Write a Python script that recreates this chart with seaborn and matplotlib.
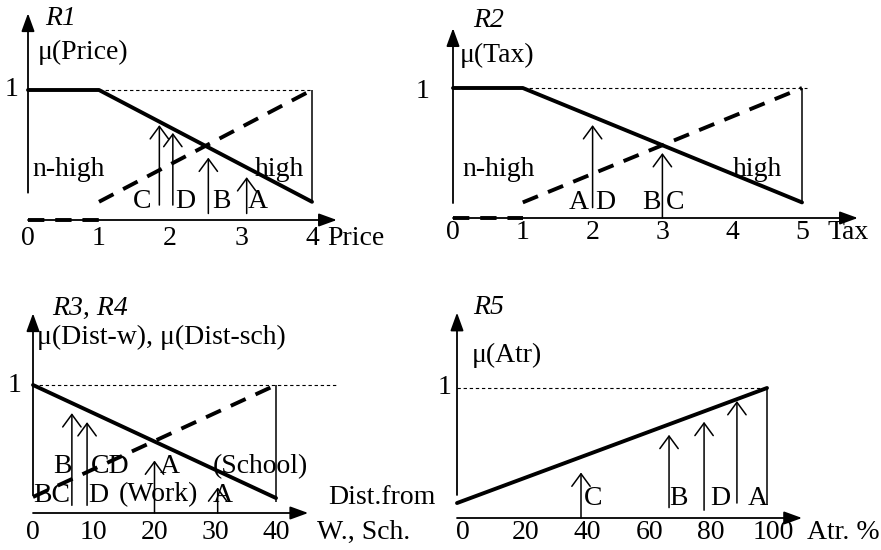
import matplotlib
matplotlib.use("Agg")
import matplotlib.pyplot as plt
import seaborn as sns

sns.set_style("white")
plt.rcParams["font.family"] = ["Liberation Serif", "DejaVu Serif"]

W, H = 881, 550
FS = 20
LW_THICK = 2.8
DASH_THICK = (0, (4.2, 2.8))
DASH_THIN = (0, (3.0, 2.5))

# ── R1: price ─────────────────────────────────────────────────────────
PRICE_X = [0, 1, 4]
PRICE_NHIGH = [1, 1, 0.14]
PRICE_HIGH_X = [1, 4]
PRICE_HIGH = [0.14, 1]
PRICE_TICKS = [0, 1, 2, 3, 4]
PRICE_ARROW_X = [1.85, 2.04, 2.54, 3.08]
PRICE_ARROW_LO = [0.115, 0.115, 0.05, 0.05]
PRICE_ARROW_HI = [0.73, 0.67, 0.48, 0.33]
PRICE_LETTERS = ["C", "D", "B", "A"]
PRICE_LETTER_X = [1.61, 2.21, 2.72, 3.23]

# ── R2: tax ───────────────────────────────────────────────────────────
TAX_X = [0, 1, 5]
TAX_NHIGH = [1, 1, 0.12]
TAX_HIGH_X = [1, 5]
TAX_HIGH = [0.12, 1]
TAX_TICKS = [0, 1, 2, 3, 4, 5]
TAX_ARROW_X = [2.0, 3.0]
TAX_ARROW_LO = [0.08, 0.0]
TAX_ARROW_HI = [0.715, 0.5]
TAX_LETTERS = ["A", "D", "B", "C"]
TAX_LETTER_X = [1.8, 2.18, 2.85, 3.18]

# ── R3, R4: distance from work / school ───────────────────────────────
DIST_X = [0, 40]
DIST_WORK = [1, 0.117]
DIST_SCHOOL = [0.125, 1]
DIST_TICKS = [0, 10, 20, 30, 40]
DIST_ARROW_X = [6.4, 8.9, 20, 30.4]
DIST_ARROW_LO = [0.06, 0.06, 0.0, 0.0]
DIST_ARROW_HI = [0.78, 0.71, 0.41, 0.2]
DIST_UPPER = ["B", "CD", "A", "(School)"]
DIST_UPPER_X = [4.9, 12.7, 22.5, 37.4]
DIST_LOWER = ["BC", "D", "(Work)", "A"]
DIST_LOWER_X = [3.1, 10.7, 20.6, 31.3]

# ── R5: attractiveness ────────────────────────────────────────────────
ATR_X = [0, 100]
ATR_MU = [0.115, 1]
ATR_TICKS = [0, 20, 40, 60, 80, 100]
ATR_ARROW_X = [40, 68.4, 79.7, 90.3]
ATR_ARROW_LO = [0.0, 0.08, 0.06, 0.115]
ATR_ARROW_HI = [0.35, 0.64, 0.74, 0.9]
ATR_LETTERS = ["C", "B", "D", "A"]
ATR_LETTER_X = [43.9, 71.3, 84.8, 97.1]


fig = plt.figure(figsize=(W / 100, H / 100), dpi=100)
fig.patch.set_facecolor("white")


def make_panel(left, top, width, height, x0_px, xunit, y0_px, yunit):
    ax = fig.add_axes([left / W, 1 - (top + height) / H, width / W, height / H])
    ax.set_xlim((left - x0_px) / xunit, (left + width - x0_px) / xunit)
    ax.set_ylim((y0_px - (top + height)) / yunit, (y0_px - top) / yunit)
    ax.axis("off")
    return ax


def axis_arrow(ax, start, end):
    ax.annotate("", xy=end, xytext=start,
                arrowprops=dict(arrowstyle="-|>,head_length=1.1,head_width=0.4",
                                color="black", lw=1.3, mutation_scale=10,
                                shrinkA=0, shrinkB=0))


def up_arrows(ax, xs, lo, hi):
    for x, a, b in zip(xs, lo, hi):
        ax.annotate("", xy=(x, b), xytext=(x, a),
                    arrowprops=dict(arrowstyle="->,head_length=0.45,head_width=0.33",
                                    color="black", lw=1.1, mutation_scale=20,
                                    shrinkA=0, shrinkB=0))


def curve(ax, x, y, dashed=False):
    sns.lineplot(x=x, y=y, ax=ax, color="black", lw=LW_THICK,
                 linestyle=DASH_THICK if dashed else "-",
                 estimator=None, sort=False, legend=False)


def txt(ax, x, y, s, ha="center", italic=False):
    ax.text(x, y, s, ha=ha, va="center", fontsize=FS,
            style="italic" if italic else "normal", color="black")


def ticks(ax, values, y, dx=0):
    for v in values:
        txt(ax, v + dx, y, str(v))


# ── Panel R1 ──────────────────────────────────────────────────────────
ax = make_panel(0, 0, 440, 275, 28, 71, 220, 130)
axis_arrow(ax, (0, 0), (4.35, 0))
axis_arrow(ax, (0, 0.21), (0, 1.59))
ax.hlines(1, 1, 4, color="black", lw=0.8, linestyle=DASH_THIN)
ax.vlines(4, PRICE_HIGH[0], 1, color="black", lw=1.1)
curve(ax, PRICE_X, PRICE_NHIGH)
curve(ax, PRICE_HIGH_X, PRICE_HIGH, dashed=True)
curve(ax, PRICE_X[:2], [0, 0], dashed=True)
up_arrows(ax, PRICE_ARROW_X, PRICE_ARROW_LO, PRICE_ARROW_HI)
for s, x in zip(PRICE_LETTERS, PRICE_LETTER_X):
    txt(ax, x, 0.14, s)
txt(ax, 0.24, 1.55, "R1", ha="left", italic=True)
txt(ax, 0.14, 1.29, "μ(Price)", ha="left")
txt(ax, -0.23, 1.0, "1")
txt(ax, 0.06, 0.385, "n-high", ha="left")
txt(ax, 3.2, 0.385, "high", ha="left")
ticks(ax, PRICE_TICKS, -0.14)
txt(ax, 4.21, -0.14, "Price", ha="left")

# ── Panel R2 ──────────────────────────────────────────────────────────
ax = make_panel(440, 0, 441, 275, 453, 69.8, 218, 130)
axis_arrow(ax, (0, 0), (5.8, 0))
axis_arrow(ax, (0, 0.115), (0, 1.46))
ax.hlines(1, 1, 5.07, color="black", lw=0.8, linestyle=DASH_THIN)
ax.vlines(5, TAX_HIGH[0], 1, color="black", lw=1.1)
curve(ax, TAX_X, TAX_NHIGH)
curve(ax, TAX_HIGH_X, TAX_HIGH, dashed=True)
curve(ax, TAX_X[:2], [0, 0], dashed=True)
up_arrows(ax, TAX_ARROW_X, TAX_ARROW_LO, TAX_ARROW_HI)
for s, x in zip(TAX_LETTERS, TAX_LETTER_X):
    txt(ax, x, 0.12, s)
txt(ax, 0.29, 1.52, "R2", ha="left", italic=True)
txt(ax, 0.1, 1.25, "μ(Tax)", ha="left")
txt(ax, -0.44, 0.97, "1")
txt(ax, 0.13, 0.37, "n-high", ha="left")
txt(ax, 4.01, 0.37, "high", ha="left")
ticks(ax, TAX_TICKS, -0.115)
txt(ax, 5.37, -0.115, "Tax", ha="left")

# ── Panel R3, R4 ──────────────────────────────────────────────────────
ax = make_panel(0, 275, 440, 275, 33, 6.075, 513, 128)
axis_arrow(ax, (0, 0), (45.3, 0))
axis_arrow(ax, (0, 0.14), (0, 1.56))
ax.hlines(1, 0, 50, color="black", lw=0.8, linestyle=DASH_THIN)
ax.vlines(40, 0.086, 1, color="black", lw=1.1)
curve(ax, DIST_X, DIST_WORK)
curve(ax, DIST_X, DIST_SCHOOL, dashed=True)
up_arrows(ax, DIST_ARROW_X, DIST_ARROW_LO, DIST_ARROW_HI)
for s, x in zip(DIST_UPPER, DIST_UPPER_X):
    txt(ax, x, 0.36, s)
for s, x in zip(DIST_LOWER, DIST_LOWER_X):
    txt(ax, x, 0.14, s)
txt(ax, 3.1, 1.6, "R3, R4", ha="left", italic=True)
txt(ax, 0.66, 1.37, "μ(Dist-w), μ(Dist-sch)", ha="left")
txt(ax, -3.0, 1.0, "1")
txt(ax, 48.6, 0.125, "Dist.from", ha="left")
ticks(ax, DIST_TICKS, -0.15)
txt(ax, 46.7, -0.15, "W., Sch.", ha="left")

# ── Panel R5 ──────────────────────────────────────────────────────────
ax = make_panel(440, 275, 441, 275, 457, 3.1, 518, 130)
axis_arrow(ax, (0, 0), (111.3, 0))
axis_arrow(ax, (0, 0.177), (0, 1.58))
ax.hlines(1, 0, 100, color="black", lw=0.8, linestyle=DASH_THIN)
ax.vlines(100, 0.1, 1, color="black", lw=1.1)
curve(ax, ATR_X, ATR_MU)
up_arrows(ax, ATR_ARROW_X, ATR_ARROW_LO, ATR_ARROW_HI)
for s, x in zip(ATR_LETTERS, ATR_LETTER_X):
    txt(ax, x, 0.15, s)
txt(ax, 5.2, 1.62, "R5", ha="left", italic=True)
txt(ax, 4.8, 1.25, "μ(Atr)", ha="left")
txt(ax, -3.9, 1.0, "1")
ticks(ax, ATR_TICKS, -0.115, dx=2)
txt(ax, 112.9, -0.115, "Atr. %", ha="left")

fig.savefig("out.png", dpi=100, facecolor="white")
